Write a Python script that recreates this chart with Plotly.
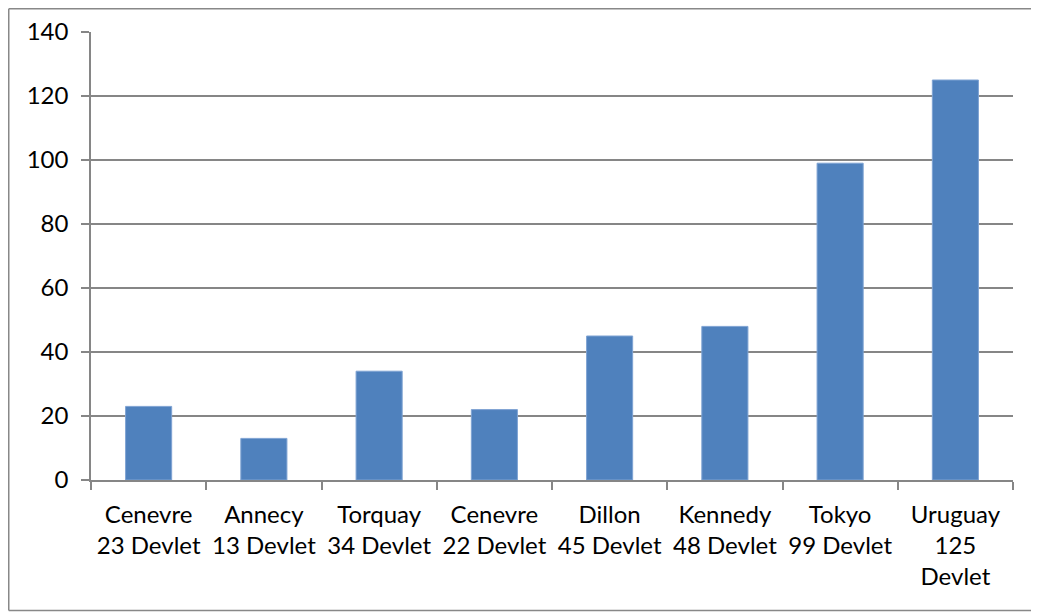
import plotly.graph_objects as go

categories = ["Cenevre<br>23 Devlet", "Annecy<br>13 Devlet", "Torquay<br>34 Devlet",
              "Cenevre<br>22 Devlet", "Dillon<br>45 Devlet", "Kennedy<br>48 Devlet",
              "Tokyo<br>99 Devlet", "Uruguay<br>125<br>Devlet"]
values = [23, 13, 34, 22, 45, 48, 99, 125]
y_ticks = [0, 20, 40, 60, 80, 100, 120, 140]

# page body has an 8px margin, so the figure starts at (8, 8) on screen
W, H = 1031, 604
ML, MR, MT, MB = 83, 26, 24, 132
pw, ph = W - ML - MR, H - MT - MB

fig = go.Figure(go.Bar(
    x=categories, y=values,
    marker=dict(color="#4F81BD", line=dict(color="#7FA3D3", width=1)),
))

def px_to_paper_x(px):
    return (px - ML) / pw

def px_to_paper_y(py):
    return 1 - (py - MT) / ph

border = dict(color="#888888", width=1.5)
bx0, bx1 = px_to_paper_x(0.75), px_to_paper_x(W + 20)
by0, by1 = px_to_paper_y(602.5), px_to_paper_y(0.75)
fig.add_shape(type="line", xref="paper", yref="paper", x0=bx0, x1=bx0, y0=by0, y1=by1, line=border, layer="below")
fig.add_shape(type="line", xref="paper", yref="paper", x0=bx0, x1=bx1, y0=by0, y1=by0, line=border, layer="below")
fig.add_shape(type="line", xref="paper", yref="paper", x0=bx0, x1=bx1, y0=by1, y1=by1, line=border, layer="below")

FONT = "Lato"
fig.update_layout(
    width=W, height=H,
    margin=dict(l=ML, r=MR, t=MT, b=MB, autoexpand=False),
    paper_bgcolor="white", plot_bgcolor="white",
    bargap=0.6,
    showlegend=False,
    font=dict(family=FONT, size=24, color="#000000"),
    xaxis=dict(
        type="category",
        automargin=False,
        showgrid=False,
        showline=True, linecolor="#868686", linewidth=1.5,
        ticks="outside", ticklen=8, tickcolor="#868686", tickwidth=1.5,
        tickson="boundaries",
        tickangle=0,
        tickfont=dict(size=24),
        ticklabelstandoff=12,
    ),
    yaxis=dict(
        range=[0, 140],
        automargin=False,
        tickvals=y_ticks,
        showgrid=True, gridcolor="#868686", gridwidth=1.5,
        showline=True, linecolor="#868686", linewidth=1.5,
        ticks="outside", ticklen=8, tickcolor="#868686", tickwidth=1.5,
        zeroline=False,
        tickfont=dict(size=24),
        ticklabelstandoff=8,
    ),
)

fig.write_html("out.html")
